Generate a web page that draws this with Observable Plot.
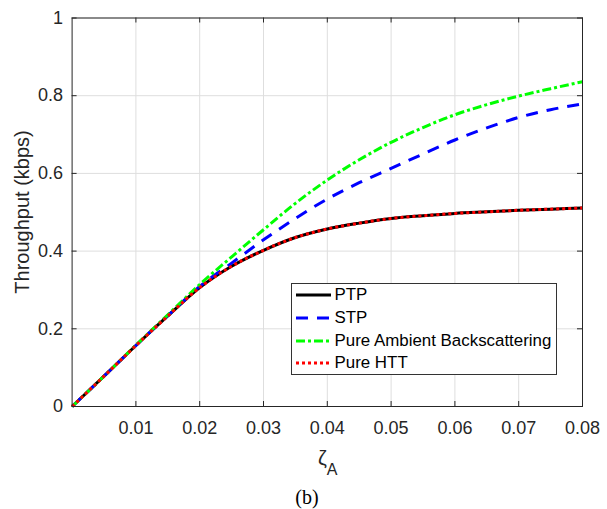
<!DOCTYPE html>
<html><head><meta charset="utf-8">
<script src="https://cdn.jsdelivr.net/npm/d3@7"></script>
<script src="https://cdn.jsdelivr.net/npm/@observablehq/plot@0.6"></script>
<style>
body{margin:0;background:#fff;}
#wrap{position:relative;width:607px;height:509px;font-family:"Liberation Sans",Arial,sans-serif;color:#262626;overflow:hidden}
#wrap > svg{position:absolute;left:0;top:0}
.abs{position:absolute;white-space:nowrap;line-height:1}
#legend{position:absolute;left:290.5px;top:282.5px;width:266px;height:92px;border:1px solid #333;background:#fff;box-sizing:border-box}
.row{position:absolute;left:0;height:20px;display:flex;align-items:center;font-size:16.9px;color:#000;white-space:nowrap}
.row svg{display:block;margin-left:4px;margin-right:4px;flex:none}
</style></head><body><div id="wrap"></div>
<script>
// ---- data ----
const zeta = [0, 0.005, 0.01, 0.015, 0.02, 0.025, 0.03, 0.035, 0.04, 0.045, 0.05, 0.055, 0.06, 0.065, 0.07, 0.075, 0.08];
const ptp  = [0, 0.078, 0.157, 0.233, 0.306, 0.361, 0.402, 0.435, 0.457, 0.472, 0.484, 0.491, 0.497, 0.501, 0.505, 0.508, 0.511];
const stp  = [0, 0.078, 0.157, 0.234, 0.309, 0.369, 0.429, 0.484, 0.534, 0.576, 0.613, 0.650, 0.686, 0.717, 0.744, 0.764, 0.779];
const pureAB  = [0, 0.078, 0.158, 0.236, 0.314, 0.385, 0.455, 0.523, 0.583, 0.635, 0.680, 0.718, 0.751, 0.777, 0.799, 0.818, 0.836];
const pureHTT = [0, 0.078, 0.157, 0.233, 0.306, 0.361, 0.402, 0.435, 0.457, 0.472, 0.484, 0.491, 0.497, 0.501, 0.505, 0.508, 0.511];
const seriesNames = ["PTP", "STP", "Pure Ambient Backscattering", "Pure HTT"];
const seriesColors = ["#000000", "#0000ff", "#00ff00", "#ff0000"];
const seriesDash = [null, "12,9", "9,3,3,3", "3,3"];
const xTicks = [0.01, 0.02, 0.03, 0.04, 0.05, 0.06, 0.07, 0.08];
const xTickLabels = ["0.01", "0.02", "0.03", "0.04", "0.05", "0.06", "0.07", "0.08"];
const yTicks = [0, 0.2, 0.4, 0.6, 0.8, 1];
const yTickLabels = ["0", "0.2", "0.4", "0.6", "0.8", "1"];
const yLabel = "Throughput (kbps)";
const caption = "(b)";

const seriesValues = [ptp, stp, pureAB, pureHTT];
const rows = seriesNames.map((name, i) => zeta.map((z, j) => ({series: name, zeta: z, v: seriesValues[i][j]})));

const W = 607, H = 509, mL = 71.6, mR = 25, mT = 17.5, mB = 103;
const fw = W - mL - mR, fh = H - mT - mB;
const axisColor = "#262626";

const lineMarks = rows.map((data, i) => Plot.line(data, {
  x: "zeta", y: "v", stroke: seriesColors[i], strokeWidth: 3,
  strokeDasharray: seriesDash[i] || undefined, strokeLinecap: "butt", curve: "monotone-x"
}));

const plot = Plot.plot({
  width: W, height: H,
  marginLeft: mL, marginRight: mR, marginTop: mT, marginBottom: mB,
  style: {fontFamily: '"Liberation Sans", Arial, sans-serif', fontSize: "18px", color: axisColor, background: "transparent"},
  x: {domain: [0, 0.08]},
  y: {domain: [0, 1]},
  marks: [
    Plot.gridX(xTicks, {stroke: "#dedede", strokeOpacity: 1, strokeWidth: 1}),
    Plot.gridY(yTicks, {stroke: "#dedede", strokeOpacity: 1, strokeWidth: 1}),
    Plot.tickX(xTicks, {x: d => d, insetTop: fh - 5, stroke: axisColor}),
    Plot.tickX(xTicks, {x: d => d, insetBottom: fh - 5, stroke: axisColor}),
    Plot.tickY(yTicks, {y: d => d, insetRight: fw - 5, stroke: axisColor}),
    Plot.tickY(yTicks, {y: d => d, insetLeft: fw - 5, stroke: axisColor}),
    Plot.axisX(xTicks, {tickSize: 0, tickPadding: 15, label: null, fill: axisColor,
      tickFormat: d => xTickLabels[xTicks.indexOf(d)]}),
    Plot.axisY(yTicks, {tickSize: 0, tickPadding: 9, label: null, fill: axisColor,
      tickFormat: d => yTickLabels[yTicks.indexOf(d)]}),
    ...lineMarks,
    Plot.frame({stroke: axisColor, strokeWidth: 1})
  ]
});

const wrap = document.getElementById("wrap");
wrap.appendChild(plot);

// y label
const yl = document.createElement("div");
yl.className = "abs";
yl.style.cssText = "left:22px;top:212px;font-size:20px;transform:translate(-50%,-50%) rotate(-90deg);";
yl.textContent = yLabel;
wrap.appendChild(yl);

// x label ζ_A
const xl = document.createElement("div");
xl.className = "abs";
xl.style.cssText = "left:318px;top:448px;font-size:20px;";
xl.innerHTML = 'ζ<span style="position:relative;top:10px;font-size:16px">A</span>';
wrap.appendChild(xl);

// caption
const cap = document.createElement("div");
cap.className = "abs";
cap.style.cssText = 'left:307px;top:487px;font-size:20px;font-family:"Liberation Serif","Times New Roman",serif;color:#000;transform:translateX(-50%);';
cap.textContent = caption;
wrap.appendChild(cap);

// legend
const lg = document.createElement("div");
lg.id = "legend";
const rowTops = [1.8, 24.8, 47.2, 69.8];
seriesNames.forEach((name, i) => {
  const r = document.createElement("div");
  r.className = "row";
  r.style.top = rowTops[i] + "px";
  const dash = seriesDash[i] ? `stroke-dasharray="${seriesDash[i]}"` : "";
  r.innerHTML = `<svg width="35" height="20"><line x1="0" y1="10" x2="35" y2="10" stroke="${seriesColors[i]}" stroke-width="3" ${dash}/></svg><span>${name}</span>`;
  lg.appendChild(r);
});
wrap.appendChild(lg);
</script>
</body></html>
